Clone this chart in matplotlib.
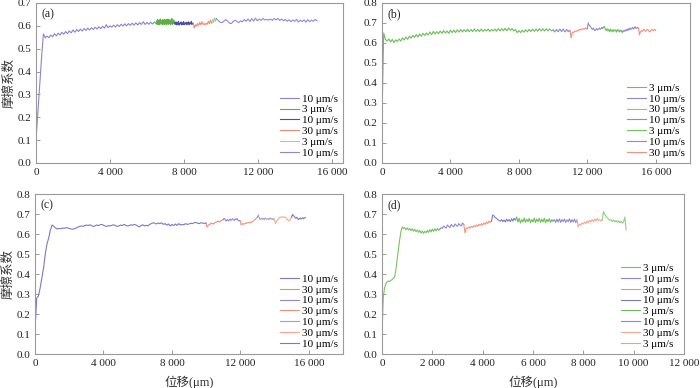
import numpy as np
import matplotlib

matplotlib.use('Agg')
from matplotlib import pyplot as plt

plt.rcParams['font.family'] = ['Liberation Serif', 'Noto Sans CJK SC']
plt.rcParams['axes.unicode_minus'] = False

# ---- panel (a) ----
a_labels = ['10 μm/s', '3 μm/s', '10 μm/s', '30 μm/s', '3 μm/s', '10 μm/s']
a_bounds = [0, 6500, 7500, 8500, 9500, 9750, 15200]
a_y = [
    [0.10, 0.22, 0.34, 0.46, 0.565, 0.548, 0.555, 0.548, 0.560, 0.552, 0.566, 0.556, 0.568,
     0.560, 0.572, 0.563, 0.575, 0.566, 0.578, 0.569, 0.582, 0.572, 0.584, 0.575, 0.586,
     0.577, 0.588, 0.580, 0.590, 0.582, 0.592, 0.584, 0.594, 0.586, 0.596, 0.588, 0.598,
     0.590, 0.605, 0.592, 0.600, 0.594, 0.603, 0.595, 0.605, 0.597, 0.607, 0.599, 0.609,
     0.600, 0.610, 0.602, 0.612, 0.603, 0.613, 0.604, 0.614, 0.606, 0.618, 0.606, 0.615,
     0.607, 0.616, 0.608, 0.617, 0.610],
    [0.612, 0.622, 0.606, 0.628, 0.61, 0.624, 0.604, 0.626, 0.612, 0.63, 0.607, 0.621, 0.61,
     0.627, 0.605, 0.624, 0.611, 0.629, 0.606, 0.622, 0.613, 0.628, 0.604, 0.625, 0.61, 0.63,
     0.607, 0.62, 0.612, 0.627, 0.605, 0.623, 0.61, 0.632, 0.606, 0.624, 0.612, 0.626, 0.608,
     0.615],
    [0.615, 0.606, 0.618, 0.604, 0.614, 0.607, 0.62, 0.603, 0.612, 0.608, 0.617, 0.604, 0.613,
     0.606, 0.619, 0.605, 0.612, 0.608, 0.616, 0.604, 0.614, 0.607, 0.618, 0.605, 0.613,
     0.609, 0.62, 0.606, 0.612, 0.61],
    [0.612, 0.59, 0.605, 0.598, 0.61, 0.602, 0.615, 0.605, 0.618, 0.606, 0.61, 0.604, 0.612,
     0.607, 0.62, 0.61, 0.625, 0.612],
    [0.61, 0.628, 0.615, 0.635, 0.62, 0.632],
    [0.632, 0.624, 0.616, 0.614, 0.62, 0.627, 0.622, 0.612, 0.61, 0.618, 0.625, 0.62, 0.614,
     0.622, 0.618, 0.628, 0.62, 0.63, 0.619, 0.632, 0.621, 0.634, 0.622, 0.63, 0.624, 0.632,
     0.626, 0.628, 0.625, 0.63, 0.624, 0.632, 0.626, 0.633, 0.624, 0.63, 0.622, 0.628, 0.62,
     0.627, 0.618, 0.626, 0.62, 0.628, 0.617, 0.625, 0.619, 0.626, 0.616, 0.627, 0.618, 0.625,
     0.62, 0.628, 0.622],
]
a_colors = ['#8a85cc', '#5fae48', '#4d4ba3', '#f48a73', '#9fd68c', '#8f89d0']

# ---- panel (b) ----
b_labels = ['3 μm/s', '10 μm/s', '30 μm/s', '10 μm/s', '3 μm/s', '10 μm/s', '30 μm/s']
b_bounds = [0, 10000, 11000, 12000, 13000, 14000, 15000, 16000]
b_y = [
    [0.23, 0.65, 0.618, 0.61, 0.62, 0.606, 0.618, 0.602, 0.616, 0.608, 0.62, 0.61, 0.626,
     0.615, 0.63, 0.618, 0.634, 0.624, 0.638, 0.628, 0.642, 0.63, 0.645, 0.634, 0.648, 0.638,
     0.65, 0.64, 0.655, 0.642, 0.658, 0.645, 0.657, 0.646, 0.66, 0.648, 0.662, 0.65, 0.66,
     0.648, 0.664, 0.652, 0.665, 0.652, 0.666, 0.654, 0.668, 0.655, 0.667, 0.656, 0.669,
     0.656, 0.668, 0.657, 0.67, 0.658, 0.668, 0.657, 0.67, 0.658, 0.668, 0.66, 0.67, 0.658,
     0.668, 0.66, 0.67, 0.659, 0.672, 0.66, 0.672, 0.661, 0.674, 0.662, 0.675, 0.663, 0.672,
     0.66, 0.668, 0.652, 0.662, 0.652, 0.664, 0.654, 0.666, 0.656, 0.668, 0.657, 0.67, 0.658,
     0.67, 0.659, 0.672, 0.66, 0.671, 0.66, 0.672, 0.66, 0.67, 0.661, 0.665],
    [0.665, 0.66, 0.655, 0.662, 0.668, 0.66, 0.656, 0.664, 0.67, 0.662, 0.657, 0.665, 0.67,
     0.66, 0.655, 0.663, 0.668, 0.66, 0.657, 0.664, 0.66],
    [0.66, 0.625, 0.645, 0.655, 0.652, 0.658, 0.66, 0.657, 0.662, 0.665, 0.662, 0.667, 0.668,
     0.665, 0.67, 0.672, 0.668, 0.672, 0.675, 0.67, 0.672],
    [0.672, 0.7, 0.69, 0.685, 0.68, 0.672, 0.668, 0.675, 0.665, 0.662, 0.668, 0.672, 0.665,
     0.67, 0.675, 0.668, 0.672, 0.678, 0.672, 0.68, 0.682],
    [0.682, 0.67, 0.662, 0.672, 0.66, 0.668, 0.656, 0.67, 0.658, 0.666, 0.655, 0.668, 0.66,
     0.665, 0.654, 0.668, 0.658, 0.666, 0.655, 0.664, 0.66],
    [0.66, 0.652, 0.662, 0.658, 0.665, 0.66, 0.668, 0.662, 0.672, 0.665, 0.675, 0.668, 0.672,
     0.678, 0.67, 0.676, 0.682, 0.672, 0.675, 0.678, 0.672],
    [0.672, 0.64, 0.655, 0.662, 0.658, 0.665, 0.668, 0.662, 0.658, 0.665, 0.668, 0.665, 0.66,
     0.655, 0.66, 0.665, 0.668, 0.662, 0.665, 0.668, 0.662],
]
b_colors = ['#6dbd58', '#8f89d0', '#f7907a', '#8f89d0', '#74c25e', '#8f89d0', '#f7907a']

# ---- panel (c) ----
c_labels = ['10 μm/s', '30 μm/s', '10 μm/s', '30 μm/s', '10 μm/s', '30 μm/s', '10 μm/s']
c_bounds = [0, 10000, 11000, 12000, 13000, 14000, 15000, 15800]
c_y = [
    [0.12, 0.28, 0.29, 0.33, 0.38, 0.43, 0.5, 0.55, 0.58, 0.62, 0.645, 0.638, 0.63, 0.625,
     0.628, 0.626, 0.63, 0.628, 0.632, 0.63, 0.628, 0.625, 0.624, 0.626, 0.63, 0.634, 0.638,
     0.64, 0.638, 0.642, 0.645, 0.642, 0.646, 0.642, 0.638, 0.64, 0.645, 0.642, 0.646, 0.648,
     0.644, 0.64, 0.638, 0.642, 0.64, 0.644, 0.646, 0.642, 0.638, 0.64, 0.645, 0.642, 0.648,
     0.644, 0.64, 0.642, 0.646, 0.644, 0.648, 0.645, 0.64, 0.636, 0.642, 0.646, 0.64, 0.644,
     0.64, 0.648, 0.652, 0.656, 0.654, 0.65, 0.655, 0.652, 0.656, 0.648, 0.652, 0.644, 0.65,
     0.64, 0.648, 0.642, 0.65, 0.643, 0.652, 0.645, 0.648, 0.646, 0.652, 0.648, 0.65, 0.654,
     0.652, 0.656, 0.658, 0.654, 0.652, 0.656, 0.655, 0.652, 0.655],
    [0.655, 0.635, 0.64, 0.645, 0.648, 0.65, 0.655, 0.653, 0.65, 0.652, 0.655, 0.658, 0.66,
     0.662, 0.665, 0.662, 0.66, 0.665, 0.668, 0.67, 0.672],
    [0.672, 0.678, 0.675, 0.665, 0.668, 0.672, 0.665, 0.67, 0.675, 0.668, 0.672, 0.676, 0.67,
     0.668, 0.675, 0.672, 0.678, 0.67, 0.665, 0.668, 0.665],
    [0.665, 0.645, 0.65, 0.652, 0.648, 0.652, 0.655, 0.652, 0.656, 0.655, 0.658, 0.656, 0.66,
     0.658, 0.662, 0.665, 0.668, 0.672, 0.675, 0.68, 0.685],
    [0.685, 0.695, 0.682, 0.672, 0.675, 0.68, 0.674, 0.678, 0.672, 0.68, 0.676, 0.674, 0.678,
     0.672, 0.676, 0.68, 0.674, 0.678, 0.672, 0.676, 0.672],
    [0.672, 0.652, 0.66, 0.668, 0.672, 0.678, 0.682, 0.684, 0.685, 0.684, 0.686, 0.684, 0.685,
     0.682, 0.678, 0.672, 0.668, 0.665, 0.67, 0.678, 0.685],
    [0.685, 0.698, 0.692, 0.688, 0.682, 0.678, 0.684, 0.678, 0.672, 0.676, 0.68, 0.675, 0.678,
     0.682, 0.676, 0.68, 0.682],
]
c_colors = ['#7d78c4', '#f48a73', '#8f89d0', '#f7907a', '#a19ddb', '#f9a58f', '#7d78c4']

# ---- panel (d) ----
d_labels = ['3 μm/s', '10 μm/s', '30 μm/s', '10 μm/s', '3 μm/s', '10 μm/s', '30 μm/s', '3 μm/s']
d_bounds = [0, 2300, 3250, 4350, 5300, 6800, 7750, 8750, 9700]
d_y = [
    [0.1, 0.28, 0.33, 0.35, 0.36, 0.365, 0.362, 0.368, 0.372, 0.378, 0.385, 0.42, 0.47, 0.52,
     0.57, 0.61, 0.635, 0.628, 0.632, 0.622, 0.63, 0.62, 0.628, 0.616, 0.626, 0.614, 0.624,
     0.612, 0.62, 0.608, 0.618, 0.604, 0.615, 0.603, 0.614, 0.606, 0.618, 0.608, 0.622, 0.61,
     0.625, 0.613, 0.626, 0.615, 0.628, 0.618, 0.625],
    [0.625, 0.632, 0.628, 0.64, 0.634, 0.63, 0.645, 0.638, 0.632, 0.648, 0.64, 0.636, 0.65,
     0.644, 0.638, 0.652, 0.645, 0.64, 0.655, 0.648],
    [0.648, 0.605, 0.63, 0.628, 0.635, 0.63, 0.638, 0.632, 0.642, 0.636, 0.645, 0.638, 0.648,
     0.642, 0.652, 0.645, 0.655, 0.648, 0.66, 0.652, 0.665, 0.658, 0.665],
    [0.665, 0.695, 0.69, 0.682, 0.678, 0.672, 0.668, 0.664, 0.672, 0.662, 0.67, 0.66, 0.674,
     0.664, 0.672, 0.662, 0.676, 0.665, 0.678, 0.67],
    [0.67, 0.685, 0.66, 0.678, 0.655, 0.672, 0.66, 0.68, 0.658, 0.674, 0.662, 0.678, 0.656,
     0.672, 0.66, 0.68, 0.657, 0.675, 0.662, 0.678, 0.658, 0.674, 0.66, 0.679, 0.656, 0.673,
     0.661, 0.677, 0.658, 0.672, 0.665],
    [0.665, 0.672, 0.658, 0.674, 0.66, 0.676, 0.658, 0.672, 0.662, 0.675, 0.658, 0.67, 0.662,
     0.676, 0.658, 0.672, 0.66, 0.674, 0.657, 0.67],
    [0.67, 0.635, 0.65, 0.645, 0.655, 0.65, 0.66, 0.652, 0.665, 0.656, 0.668, 0.66, 0.672,
     0.662, 0.675, 0.665, 0.678, 0.668, 0.672, 0.665, 0.67],
    [0.67, 0.712, 0.7, 0.688, 0.682, 0.675, 0.668, 0.672, 0.662, 0.67, 0.66, 0.668, 0.658,
     0.666, 0.656, 0.664, 0.655, 0.662, 0.685, 0.62],
]
d_colors = ['#79c263', '#8f89d0', '#f7907a', '#7d78c4', '#6dbd58', '#8f89d0', '#f9a58f', '#8fd07a']

panels = [
    ('(a)', a_labels, a_bounds, a_y, a_colors, 16600, 0.7),
    ('(b)', b_labels, b_bounds, b_y, b_colors, 18000, 0.8),
    ('(c)', c_labels, c_bounds, c_y, c_colors, 18000, 0.8),
    ('(d)', d_labels, d_bounds, d_y, d_colors, 12000, 0.8),
]
xtick_sets = [[0, 4000, 8000, 12000, 16000]] * 3 + [[0, 2000, 4000, 6000, 8000, 10000, 12000]]

fig = plt.figure(figsize=(7.0, 3.88), dpi=100)
rects = [
    [36 / 700, 225 / 388, 307 / 700, 160 / 388],
    [382 / 700, 225 / 388, 308 / 700, 160 / 388],
    [35 / 700, 34 / 388, 308 / 700, 160 / 388],
    [382 / 700, 34 / 388, 302 / 700, 160 / 388],
]
edge = '#9a9a9a'
for i, (tag, labels, bounds, ys, colors, xmax, ymax) in enumerate(panels):
    ax = fig.add_axes(rects[i])
    for k, (lab, yy) in enumerate(zip(labels, ys)):
        xx = np.linspace(bounds[k], bounds[k + 1], len(yy))
        ax.plot(xx, yy, color=colors[k], lw=0.8, label=lab)
    ax.set_xlim(0, xmax)
    ax.set_ylim(0, ymax)
    ax.set_xticks(xtick_sets[i])
    ax.set_xticklabels([f'{v:,}'.replace(',', ' ') for v in xtick_sets[i]])
    yt = np.round(np.arange(0, ymax + 0.001, 0.1), 1)
    ax.set_yticks(yt)
    ax.set_yticklabels([f'{v:.1f}' for v in yt])
    for s in ax.spines.values():
        s.set_color(edge)
        s.set_linewidth(0.8)
    ax.tick_params(direction='in', length=3, width=0.7, color=edge,
                   labelsize=8, pad=3.5, labelcolor='#222222')
    ax.text(0.018, 0.965, tag, transform=ax.transAxes, va='top', ha='left',
            fontsize=8.5, color='#222222')
    ax.legend(loc='lower right', frameon=False, fontsize=8, handlelength=1.7,
              handletextpad=0.3, labelspacing=0.1, borderaxespad=0.05)
    if i in (0, 2):
        ax.set_ylabel('摩擦系数', fontsize=9, color='#333333',
                      family=['Noto Sans CJK SC', 'DejaVu Sans'])
        ax.yaxis.set_label_coords(-0.068, 0.5)
    if i in (2, 3):
        ax.set_xlabel('位移(μm)', fontsize=9, color='#333333',
                      family=['Liberation Serif', 'Noto Sans CJK SC'])
        ax.xaxis.set_label_coords(0.5, -0.135)

fig.savefig('out.png', dpi=100)
